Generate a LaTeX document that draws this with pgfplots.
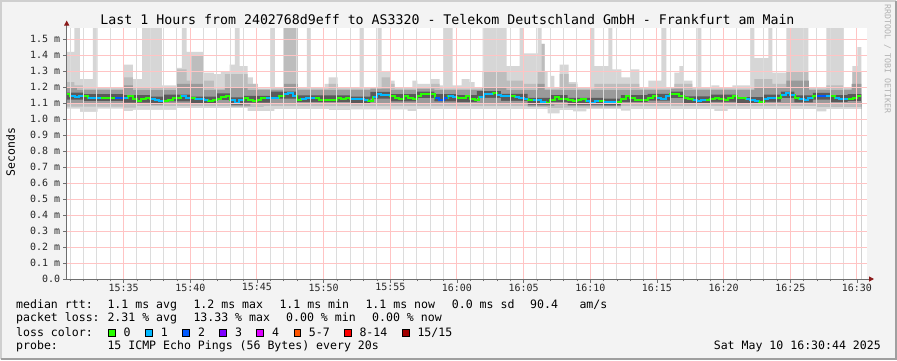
\documentclass[border=0pt]{standalone}
\usepackage{fontspec}
\setmainfont{DejaVu Sans Mono}
\usepackage{pgfplots}
\usepackage{pgfplotstable}
\pgfplotsset{compat=1.18}
\usetikzlibrary{arrows.meta}

\definecolor{bgc}{HTML}{F3F3F3}
\definecolor{bordl}{HTML}{CFCFCF}
\definecolor{bordd}{HTML}{9F9F9F}
\definecolor{bandA}{HTML}{D6D6D6}
\definecolor{bandB}{HTML}{BDBDBD}
\definecolor{bandC}{HTML}{9A9A9A}
\definecolor{bandD}{HTML}{5A5A5A}
\definecolor{loss0}{HTML}{26FF00}
\definecolor{loss1}{HTML}{00B8FF}
\definecolor{loss2}{HTML}{0059FF}
\definecolor{loss3}{HTML}{7E00FF}
\definecolor{loss4}{HTML}{DD00FF}
\definecolor{loss5}{HTML}{FF5500}
\definecolor{loss8}{HTML}{FF0000}
\definecolor{loss15}{HTML}{A10000}
\definecolor{majgrid}{HTML}{FFC4C4}
\definecolor{mingrid}{HTML}{DCDCDC}
\definecolor{axisc}{HTML}{6E6E6E}
\definecolor{arrowc}{HTML}{8B1A1A}

\newcommand{\legfont}{\fontsize{11.6}{13}\selectfont}

% time t in minutes after 15:30, values in ms
\pgfplotstableread{
t v
0.733 1.42
1.30 1.60
1.72 1.25
2.70 1.60
3.05 1.20
5.02 1.34
5.70 1.25
6.39 1.60
7.87 1.21
8.99 1.32
9.37 1.60
9.73 1.42
11.00 1.29
11.77 1.28
12.29 1.30
12.96 1.34
13.34 1.60
13.71 1.33
14.31 1.26
14.69 1.22
15.06 1.19
16.03 1.60
16.34 1.20
17.01 1.60
18.06 1.20
18.74 1.60
19.04 1.20
20.08 1.22
20.38 1.26
21.06 1.20
22.71 1.60
23.01 1.20
24.06 1.60
24.36 1.30
25.03 1.24
25.33 1.20
26.66 1.24
27.03 1.22
28.03 1.25
28.70 1.21
29.00 1.60
29.67 1.21
30.35 1.25
30.95 1.23
31.32 1.20
31.92 1.60
33.72 1.33
34.70 1.60
35.00 1.41
36.05 1.60
36.35 1.47
36.57 1.30
36.80 1.20
37.00 1.27
37.30 1.20
37.70 1.34
38.37 1.23
39.04 1.20
40.01 1.60
40.31 1.33
41.36 1.60
41.66 1.31
42.34 1.26
43.01 1.31
43.69 1.20
44.36 1.24
45.33 1.60
45.71 1.20
46.31 1.29
46.68 1.33
46.98 1.24
47.66 1.20
48.03 1.60
48.33 1.20
49.08 1.21
49.68 1.20
50.66 1.21
52.00 1.60
52.31 1.38
53.36 1.60
53.66 1.29
54.71 1.60
56.36 1.20
57.70 1.60
58.98 1.20
59.65 1.33
60.03 1.45
60.33 1.45
}\hiA

\pgfplotstableread{
t v
0.733 1.065
1.72 1.044
3.05 1.065
5.0 1.050
5.7 1.058
9.0 1.068
14.3 1.050
16.3 1.062
20.4 1.055
22.0 1.060
26.3 1.050
27.0 1.062
36.8 1.035
37.7 1.055
38.7 1.048
39.7 1.062
42.3 1.052
43.0 1.062
49.3 1.050
50.3 1.062
57.0 1.048
57.7 1.062
60.33 1.062
}\loA

\pgfplotstableread{
t v
0.733 1.23
1.30 1.21
2.0 1.19
5.0 1.26
5.7 1.20
9.0 1.31
9.73 1.24
10.1 1.40
11.0 1.24
11.77 1.19
12.6 1.28
14.31 1.22
15.06 1.19
17.01 1.60
18.06 1.19
20.38 1.22
21.06 1.19
24.36 1.26
25.03 1.22
25.33 1.19
28.03 1.22
28.70 1.19
31.92 1.30
33.72 1.24
35.00 1.22
36.05 1.30
36.35 1.47
36.57 1.19
37.70 1.28
38.37 1.22
39.04 1.19
40.31 1.22
43.69 1.19
46.31 1.22
47.66 1.19
52.31 1.25
53.66 1.22
54.71 1.30
56.36 1.19
57.70 1.21
58.98 1.19
59.65 1.30
60.33 1.30
}\hiB

\pgfplotstableread{
t v
0.733 1.078
5.0 1.072
6.0 1.080
13.0 1.074
15.5 1.080
35.3 1.074
36.8 1.068
38.0 1.072
42.3 1.080
57.0 1.075
60.33 1.080
}\loB

\pgfplotstableread{
t v
0.733 1.20
1.5 1.18
5.0 1.21
5.7 1.18
9.0 1.22
11.0 1.18
12.6 1.20
14.3 1.18
17.0 1.22
18.06 1.18
23.5 1.19
25.0 1.18
27.0 1.19
28.3 1.18
31.9 1.20
33.7 1.18
36.05 1.22
36.57 1.18
46.0 1.19
47.0 1.18
52.3 1.20
54.7 1.24
56.4 1.18
59.6 1.22
60.33 1.22
}\hiC

\pgfplotstableread{
t v
0.733 1.095
7.0 1.088
8.0 1.095
13.0 1.082
14.5 1.095
35.3 1.080
37.3 1.092
38.3 1.080
42.3 1.095
60.33 1.095
}\loC

\pgfplotstableread{
t v
0.733 1.165
2.0 1.155
5.0 1.150
7.0 1.140
8.0 1.152
10.0 1.140
12.0 1.160
13.0 1.135
14.0 1.145
16.0 1.172
18.0 1.148
22.0 1.140
23.5 1.170
25.0 1.155
27.0 1.172
28.3 1.155
30.0 1.150
31.5 1.175
33.3 1.157
35.3 1.132
37.0 1.150
38.3 1.132
41.0 1.128
42.3 1.150
44.3 1.158
46.0 1.172
47.0 1.142
49.0 1.152
51.0 1.137
53.0 1.152
54.3 1.172
55.3 1.148
56.7 1.164
58.0 1.150
59.3 1.156
60.33 1.156
}\hiD

\pgfplotstableread{
t v
0.733 1.122
2.0 1.112
5.0 1.103
7.0 1.095
8.0 1.110
10.0 1.097
12.0 1.118
13.0 1.090
14.0 1.103
16.0 1.128
18.0 1.105
22.0 1.098
23.5 1.128
25.0 1.110
27.0 1.130
28.3 1.110
30.0 1.106
31.5 1.132
33.3 1.113
35.3 1.090
37.0 1.106
38.3 1.090
41.0 1.086
42.3 1.106
44.3 1.115
46.0 1.130
47.0 1.098
49.0 1.108
51.0 1.098
53.0 1.108
54.3 1.130
55.3 1.104
56.7 1.122
58.0 1.106
59.3 1.112
60.33 1.112
}\loD

% median rtt, c = packets lost
\pgfplotstableread{
t v c
0.733 1.158 0
1.00 1.144 1
1.33 1.135 1
1.67 1.144 1
2.00 1.144 0
2.33 1.133 1
3.33 1.133 0
4.33 1.133 2
5.00 1.133 1
5.33 1.144 0
5.67 1.125 0
6.00 1.110 0
6.33 1.125 0
6.67 1.133 0
7.00 1.125 1
7.33 1.120 1
7.67 1.115 1
8.00 1.110 0
8.33 1.120 0
8.67 1.133 0
9.33 1.144 1
9.67 1.133 1
10.00 1.133 0
10.33 1.125 1
11.00 1.120 1
11.33 1.110 0
11.67 1.120 0
12.00 1.128 0
12.33 1.137 0
12.67 1.144 0
13.00 1.119 1
13.33 1.102 1
13.67 1.117 1
14.00 1.133 0
14.33 1.119 0
14.67 1.110 0
15.00 1.121 0
15.33 1.133 0
15.67 1.133 1
16.67 1.144 0
17.00 1.154 1
17.33 1.160 1
17.67 1.142 1
18.00 1.121 0
18.33 1.125 1
18.67 1.133 1
19.33 1.133 0
19.67 1.121 0
21.00 1.133 0
21.33 1.125 0
21.67 1.133 0
22.00 1.125 1
23.00 1.119 1
23.33 1.110 0
23.67 1.137 1
24.00 1.158 1
24.33 1.150 1
25.00 1.142 0
25.33 1.133 0
25.67 1.125 0
26.00 1.142 0
26.33 1.133 0
26.67 1.125 0
27.00 1.142 0
27.33 1.154 0
28.33 1.133 2
28.67 1.121 2
29.00 1.133 2
29.33 1.142 1
29.67 1.137 1
30.00 1.133 0
30.67 1.142 0
31.00 1.125 0
31.33 1.117 0
31.67 1.137 1
32.00 1.154 1
32.33 1.158 1
32.67 1.162 0
33.00 1.150 1
33.33 1.142 1
34.00 1.142 0
34.33 1.137 1
34.67 1.133 1
35.00 1.125 1
35.33 1.121 0
35.67 1.121 1
36.33 1.108 1
36.67 1.098 0
37.00 1.121 0
37.33 1.137 0
37.67 1.125 0
38.33 1.117 0
38.67 1.110 0
39.00 1.117 0
39.33 1.125 0
39.67 1.110 1
40.00 1.100 1
40.33 1.110 1
40.67 1.110 0
41.00 1.108 1
42.00 1.104 0
42.33 1.125 0
42.67 1.142 0
43.00 1.129 0
43.33 1.121 0
44.33 1.133 0
44.67 1.142 0
45.00 1.133 1
45.33 1.125 1
45.67 1.146 1
46.00 1.158 0
46.33 1.154 0
46.67 1.146 0
47.00 1.129 0
47.33 1.125 0
47.67 1.119 1
48.00 1.113 1
48.33 1.119 1
48.67 1.122 0
49.00 1.125 0
49.33 1.133 0
49.67 1.125 0
50.00 1.119 0
50.33 1.133 0
50.67 1.142 0
51.00 1.133 0
51.67 1.125 1
52.00 1.119 1
52.33 1.113 1
52.67 1.108 0
53.00 1.125 1
53.33 1.133 1
54.00 1.133 0
54.33 1.148 1
54.67 1.160 1
55.00 1.148 1
55.33 1.133 0
55.67 1.125 1
56.00 1.121 1
56.33 1.133 1
56.67 1.144 0
57.00 1.144 2
57.67 1.144 1
58.00 1.142 0
58.33 1.133 1
58.67 1.123 1
59.33 1.125 0
59.67 1.133 0
60.00 1.144 0
60.33 1.144 0
}\med

% runs with 1 packet lost
\pgfplotstableread{
t v
1.00 1.144
1.33 1.135
1.67 1.144
2.00 1.144
nan nan
2.33 1.133
3.33 1.133
nan nan
5.00 1.133
5.33 1.133
nan nan
7.00 1.125
7.33 1.120
7.67 1.115
8.00 1.115
nan nan
9.33 1.144
9.67 1.133
10.00 1.133
nan nan
10.33 1.125
11.00 1.120
11.33 1.120
nan nan
13.00 1.119
13.33 1.102
13.67 1.117
14.00 1.117
nan nan
15.67 1.133
16.67 1.133
nan nan
17.00 1.154
17.33 1.160
17.67 1.142
18.00 1.142
nan nan
18.33 1.125
18.67 1.133
19.33 1.133
nan nan
22.00 1.125
23.00 1.119
23.33 1.119
nan nan
23.67 1.137
24.00 1.158
24.33 1.150
25.00 1.150
nan nan
29.33 1.142
29.67 1.137
30.00 1.137
nan nan
31.67 1.137
32.00 1.154
32.33 1.158
32.67 1.158
nan nan
33.00 1.150
33.33 1.142
34.00 1.142
nan nan
34.33 1.137
34.67 1.133
35.00 1.125
35.33 1.125
nan nan
35.67 1.121
36.33 1.108
36.67 1.108
nan nan
39.67 1.110
40.00 1.100
40.33 1.110
40.67 1.110
nan nan
41.00 1.108
42.00 1.108
nan nan
45.00 1.133
45.33 1.125
45.67 1.146
46.00 1.146
nan nan
47.67 1.119
48.00 1.113
48.33 1.119
48.67 1.119
nan nan
51.67 1.125
52.00 1.119
52.33 1.113
52.67 1.113
nan nan
53.00 1.125
53.33 1.133
54.00 1.133
nan nan
54.33 1.148
54.67 1.160
55.00 1.148
55.33 1.148
nan nan
55.67 1.125
56.00 1.121
56.33 1.133
56.67 1.133
nan nan
57.67 1.144
58.00 1.144
nan nan
58.33 1.133
58.67 1.123
59.33 1.123
}\medone

% runs with 2 packets lost
\pgfplotstableread{
t v
4.33 1.133
5.00 1.133
nan nan
28.33 1.133
28.67 1.121
29.00 1.133
29.33 1.133
nan nan
57.00 1.144
57.67 1.144
}\medtwo

\begin{document}
\begin{tikzpicture}[x=1bp,y=1bp]
\fill[bgc] (0,0) rectangle (897,-360);
\draw[bordl, line width=2bp] (1,-359) -- (1,-1) -- (896,-1);
\draw[bordd, line width=2bp] (1,-359) -- (896,-359) -- (896,-1);

\begin{axis}[
  at={(66.7bp,-279bp)}, anchor=south west,
  scale only axis, width=800bp, height=251bp,
  xmin=0.733, xmax=60.733, ymin=0, ymax=1.569,
  axis background/.style={fill=white},
  axis line style={draw=none},
  axis on top,
  tick pos=left, tick align=outside,
  major tick length=3.5bp, minor tick length=2bp,
  tick style={color=axisc, line width=0.8bp},
  xtick={5,10,15,20,25,30,35,40,45,50,55,60},
  xticklabels={15:35,15:40,15:45,15:50,15:55,16:00,16:05,16:10,16:15,16:20,16:25,16:30},
  minor xtick={1,2,...,60},
  ytick={0,0.1,0.2,0.3,0.4,0.5,0.6,0.7,0.8,0.9,1.0,1.1,1.2,1.3,1.4,1.5},
  yticklabels={0.0,0.1 m,0.2 m,0.3 m,0.4 m,0.5 m,0.6 m,0.7 m,0.8 m,0.9 m,1.0 m,1.1 m,1.2 m,1.3 m,1.4 m,1.5 m},
  ticklabel style={font=\fontsize{10}{10}\selectfont, text=black!85},
  xticklabel style={anchor=north, inner sep=0pt, yshift=-1bp},
  yticklabel style={anchor=east, inner sep=0pt, xshift=-3bp},
  grid=both,
  major grid style={color=majgrid, line width=0.9bp},
  minor grid style={color=mingrid, line width=0.9bp},
]
% nested smoke bands, painted from the outside in
\addplot[fill=bandA, draw=none, const plot, forget plot] table[x=t,y=v] {\hiA} \closedcycle;
\addplot[fill=bandB, draw=none, const plot, forget plot] table[x=t,y=v] {\hiB} \closedcycle;
\addplot[fill=bandC, draw=none, const plot, forget plot] table[x=t,y=v] {\hiC} \closedcycle;
\addplot[fill=bandD, draw=none, const plot, forget plot] table[x=t,y=v] {\hiD} \closedcycle;
\addplot[fill=bandC, draw=none, const plot, forget plot] table[x=t,y=v] {\loD} \closedcycle;
\addplot[fill=bandB, draw=none, const plot, forget plot] table[x=t,y=v] {\loC} \closedcycle;
\addplot[fill=bandA, draw=none, const plot, forget plot] table[x=t,y=v] {\loB} \closedcycle;
\addplot[fill=white, draw=none, const plot, forget plot] table[x=t,y=v] {\loA} \closedcycle;

\addplot[const plot, color=loss0, line width=2bp, forget plot] table[x=t,y=v] {\med};
\addplot[const plot, color=loss1, line width=2bp, unbounded coords=jump, forget plot] table[x=t,y=v] {\medone};
\addplot[const plot, color=loss2, line width=2bp, unbounded coords=jump, forget plot] table[x=t,y=v] {\medtwo};
\end{axis}

% axes with arrows
\draw[axisc, line width=1bp, -{Triangle[length=5bp, width=5bp, color=arrowc]}] (66.7,-279) -- (66.7,-20.5);
\draw[axisc, line width=1bp, -{Triangle[length=5bp, width=5bp, color=arrowc]}] (63,-279) -- (874,-279);

% title and labels
\node[anchor=base, font=\fontsize{13.3}{15}\selectfont] at (447.5,-24) {Last 1 Hours from 2402768d9eff to AS3320 - Telekom Deutschland GmbH - Frankfurt am Main};
\node[rotate=90, font=\fontsize{11.5}{12}\selectfont] at (10.5,-152) {Seconds};
\node[rotate=-90, anchor=west, font=\fontsize{8.3}{9}\selectfont, text=black!30, inner sep=0pt] at (887.5,-4) {RRDTOOL / TOBI OETIKER};

% legend rows
\begin{scope}[every node/.style={anchor=base west, font=\legfont, inner sep=0pt}]
\node at (16,-308.3) {median rtt:};
\node at (107.3,-308.3) {1.1 ms avg};
\node at (193.3,-308.3) {1.2 ms max};
\node at (279.3,-308.3) {1.1 ms min};
\node at (365.3,-308.3) {1.1 ms now};
\node at (451.7,-308.3) {0.0 ms sd};
\node at (530,-308.3) {90.4};
\node at (579.3,-308.3) {am/s};

\node at (16,-321.7) {packet loss:};
\node at (107.3,-321.7) {2.31 \% avg};
\node at (193.3,-321.7) {13.33 \% max};
\node at (286,-321.7) {0.00 \% min};
\node at (372,-321.7) {0.00 \% now};

\node at (16,-336) {loss color:};
\node at (123.3,-336) {0};
\node at (160.7,-336) {1};
\node at (198,-336) {2};
\node at (235,-336) {3};
\node at (272,-336) {4};
\node at (308.7,-336) {5-7};
\node at (359.3,-336) {8-14};
\node at (417.3,-336) {15/15};

\node at (16,-349.3) {probe:};
\node at (107.3,-349.3) {15 ICMP Echo Pings (56 Bytes) every 20s};
\node[anchor=base east] at (881,-349.3) {Sat May 10 16:30:44 2025};
\end{scope}

\foreach \xa/\col in {108.3/loss0, 145.7/loss1, 182.7/loss2, 219.3/loss3, 256.7/loss4, 294/loss5, 344.7/loss8, 402.7/loss15}
  \filldraw[fill=\col, draw=black, line width=0.8bp] (\xa,-329.3) rectangle ++(6.7,-6.7);
\end{tikzpicture}
\end{document}
